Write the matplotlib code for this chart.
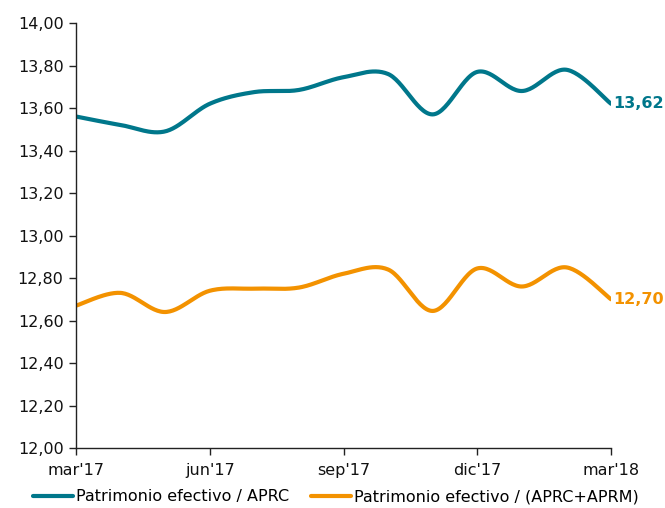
import numpy as np
import matplotlib
matplotlib.use("Agg")
import matplotlib.pyplot as plt

months = ["mar'17", "abr'17", "may'17", "jun'17", "jul'17", "ago'17", "sep'17",
          "oct'17", "nov'17", "dic'17", "ene'18", "feb'18", "mar'18"]
aprc = [13.56, 13.52, 13.49, 13.62, 13.675, 13.685, 13.745, 13.76, 13.57, 13.77, 13.68, 13.78, 13.62]
aprc_aprm = [12.67, 12.73, 12.64, 12.74, 12.75, 12.755, 12.82, 12.84, 12.645, 12.845, 12.76, 12.85, 12.70]
tick_labels = ["mar'17", "jun'17", "sep'17", "dic'17", "mar'18"]
ytick_vals = [12.0, 12.2, 12.4, 12.6, 12.8, 13.0, 13.2, 13.4, 13.6, 13.8, 14.0]

blue = "#00778B"
orange = "#F39200"


def smooth(x, y, n=30):
    # Catmull-Rom style smoothing (like Excel "smoothed line")
    x = np.asarray(x, float)
    y = np.asarray(y, float)
    px = np.concatenate([[x[0]], x, [x[-1]]])
    py = np.concatenate([[y[0]], y, [y[-1]]])
    xs, ys = [], []
    for i in range(1, len(px) - 2):
        p0, p1, p2, p3 = (np.array([px[j], py[j]]) for j in (i - 1, i, i + 1, i + 2))
        c1 = p1 + (p2 - p0) / 6.0
        c2 = p2 - (p3 - p1) / 6.0
        t = np.linspace(0, 1, n)[:, None]
        pts = ((1 - t) ** 3) * p1 + 3 * ((1 - t) ** 2) * t * c1 + 3 * (1 - t) * t ** 2 * c2 + t ** 3 * p2
        xs.extend(pts[:, 0])
        ys.extend(pts[:, 1])
    return np.array(xs), np.array(ys)


fig = plt.figure(figsize=(6.65, 5.08), dpi=100)
ax = fig.add_axes([0.1143, 0.1181, 0.8045, 0.8366])

x = np.arange(len(months))
sx, sy = smooth(x, aprc)
ax.plot(sx, sy, color=blue, lw=3, solid_capstyle="round", label="Patrimonio efectivo / APRC")
sx2, sy2 = smooth(x, aprc_aprm)
ax.plot(sx2, sy2, color=orange, lw=3, solid_capstyle="round", label="Patrimonio efectivo / (APRC+APRM)")

ax.text(x[-1] + 0.05, aprc[-1], f"{aprc[-1]:.2f}".replace(".", ","), color=blue,
        fontsize=11.5, fontweight="bold", va="center", ha="left", clip_on=False)
ax.text(x[-1] + 0.05, aprc_aprm[-1], f"{aprc_aprm[-1]:.2f}".replace(".", ","), color=orange,
        fontsize=11.5, fontweight="bold", va="center", ha="left", clip_on=False)

ax.set_xlim(0, len(months) - 1)
ax.set_ylim(12.0, 14.0)
ax.set_xticks([months.index(m) for m in tick_labels])
ax.set_xticklabels(tick_labels)
ax.set_yticks(ytick_vals)
ax.set_yticklabels([f"{v:.2f}".replace(".", ",") for v in ytick_vals])

for s in ["top", "right"]:
    ax.spines[s].set_visible(False)
for s in ["left", "bottom"]:
    ax.spines[s].set_color("#222222")
    ax.spines[s].set_linewidth(1.0)
ax.tick_params(axis="both", direction="out", length=5, width=1, color="#222222",
               labelsize=11.5, labelcolor="#111111")
ax.tick_params(axis="x", pad=6)
ax.tick_params(axis="y", pad=4)

leg = fig.legend(loc="center", bbox_to_anchor=(0.505, 0.022), ncol=2, frameon=False,
                 fontsize=11.5, handlelength=2.5, handletextpad=0.15, columnspacing=1.4,
                 borderpad=0, borderaxespad=0)

fig.savefig("out.png", dpi=100)
